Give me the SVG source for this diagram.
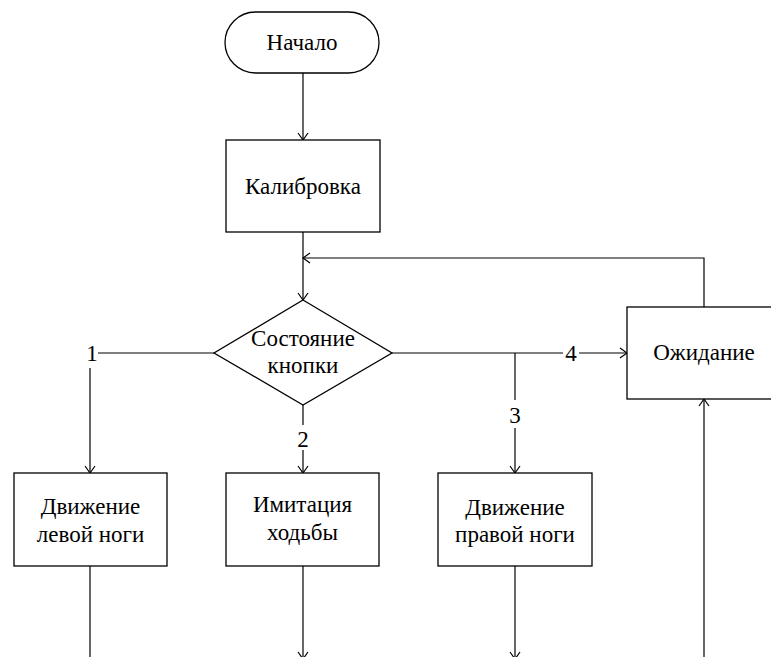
<svg xmlns="http://www.w3.org/2000/svg" width="771" height="657" viewBox="0 0 771 657" font-family="Liberation Serif, DejaVu Serif, serif" font-size="23" text-anchor="middle">
<defs>
<style>
.n{fill:#fff;stroke:#000;stroke-width:1.3}
.c{fill:none;stroke:#000;stroke-width:1.2}
</style>
<marker id="a" viewBox="-8 -6 10 12" markerWidth="10" markerHeight="12" refX="0" refY="0" orient="auto" markerUnits="userSpaceOnUse">
<path d="M-7,-5 L0,0 L-7,5" fill="none" stroke="#000" stroke-width="1.2"/>
</marker>
</defs>
<rect width="771" height="657" fill="#fff"/>
<g id="connectors">
<line class="c" x1="303" y1="73" x2="303" y2="140" marker-end="url(#a)"/>
<line class="c" x1="303" y1="232" x2="303" y2="300" marker-end="url(#a)"/>
<polyline class="c" points="704,307 704,258 303,258" marker-end="url(#a)"/>
<line class="c" x1="214" y1="353" x2="98" y2="353"/>
<line class="c" x1="90" y1="368" x2="90" y2="473" marker-end="url(#a)"/>
<line class="c" x1="303" y1="405" x2="303" y2="425"/>
<line class="c" x1="303" y1="450" x2="303" y2="473" marker-end="url(#a)"/>
<line class="c" x1="392" y1="353" x2="563" y2="353"/>
<line class="c" x1="579" y1="353" x2="627" y2="353" marker-end="url(#a)"/>
<line class="c" x1="515" y1="353" x2="515" y2="400"/>
<line class="c" x1="515" y1="428" x2="515" y2="473" marker-end="url(#a)"/>
<line class="c" x1="90" y1="566" x2="90" y2="657"/>
<line class="c" x1="303" y1="566" x2="303" y2="659" marker-end="url(#a)"/>
<line class="c" x1="515" y1="566" x2="515" y2="659" marker-end="url(#a)"/>
<line class="c" x1="704" y1="657" x2="704" y2="399" marker-end="url(#a)"/>
<text x="92" y="361">1</text>
<text x="303" y="447">2</text>
<text x="515" y="423">3</text>
<text x="571" y="361">4</text>
</g>
<g id="start">
<rect class="n" x="225" y="12" width="154" height="61" rx="30.5"/>
<text x="302" y="50">Начало</text>
</g>
<g id="calibration">
<rect class="n" x="226" y="140" width="154" height="92"/>
<text x="303" y="194">Калибровка</text>
</g>
<g id="decision">
<polygon class="n" points="303,300 392,353 303,405 214,353"/>
<text x="303" y="346">Состояние</text>
<text x="303" y="373">кнопки</text>
</g>
<g id="wait">
<rect class="n" x="627" y="307" width="154" height="92"/>
<text x="704" y="360">Ожидание</text>
</g>
<g id="left-leg">
<rect class="n" x="14" y="473" width="153" height="93"/>
<text x="90.5" y="514">Движение</text>
<text x="90.5" y="542">левой ноги</text>
</g>
<g id="walk">
<rect class="n" x="226" y="473" width="153" height="93"/>
<text x="302.5" y="512">Имитация</text>
<text x="302.5" y="540">ходьбы</text>
</g>
<g id="right-leg">
<rect class="n" x="438" y="473" width="154" height="93"/>
<text x="515" y="515">Движение</text>
<text x="515" y="542">правой ноги</text>
</g>
</svg>
